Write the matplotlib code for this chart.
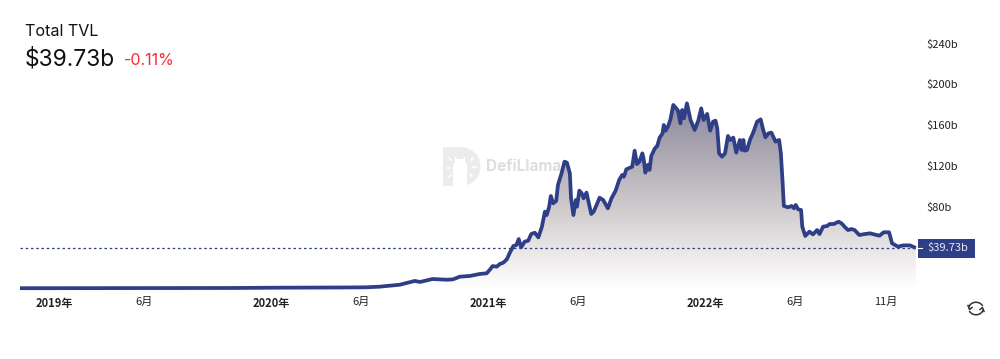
import matplotlib
matplotlib.use('Agg')
import matplotlib.pyplot as plt
from matplotlib.colors import LinearSegmentedColormap
from matplotlib.patches import Polygon, Rectangle, Wedge, Arc
import numpy as np

# days since 2019-01-01
tvl_days = [-57, 100, 300, 380, 450, 489, 526, 548, 582, 607, 616, 637, 661, 671, 683, 700,
            716, 728, 733, 738, 745, 750, 756, 762, 767, 773, 778, 782, 786, 792, 798, 803, 809, 815, 821, 826,
            829, 833, 836, 840, 845, 848, 854, 859, 863, 868, 870, 874, 878, 880, 884, 888, 891, 896, 900, 904,
            908, 913, 918, 924, 932, 938, 945, 951, 956, 959, 963, 973, 977, 981, 985, 990, 992, 995, 999, 1002,
            1005, 1011, 1015, 1019, 1024, 1026, 1029, 1033, 1037, 1042, 1047, 1050, 1054, 1057, 1060, 1065, 1071,
            1078, 1084, 1089, 1093, 1099, 1104, 1109, 1113, 1116, 1119, 1124, 1129, 1134, 1138, 1143, 1148, 1154,
            1157, 1160, 1162, 1166, 1171, 1177, 1183, 1189, 1193, 1197, 1202, 1207, 1214, 1220, 1223, 1226, 1228,
            1235, 1241, 1245, 1248, 1252, 1257, 1259, 1264, 1271, 1277, 1284, 1288, 1294, 1301, 1305, 1312, 1320,
            1325, 1331, 1336, 1342, 1347, 1355, 1361, 1373, 1384, 1389, 1396, 1405, 1410, 1420, 1429, 1440, 1450]
# TVL in billions of dollars
tvl_values = [0.3, 0.4, 0.5, 0.8, 0.9, 1.0, 1.2, 1.8, 3.7, 7.4, 6.4, 9.3, 8.6, 8.9, 11.6, 12.3,
              14.2, 14.9, 18.1, 22.0, 21.4, 24.0, 25.3, 28.6, 35.1, 41.7, 42.6, 48.5, 40.3, 45.9, 46.9, 53.4, 54.7, 50.1, 60.6, 75.3,
              72.0, 79.6, 90.7, 83.5, 85.8, 101.5, 112.9, 124.3, 123.4, 112.9, 88.4, 72.0, 86.8, 80.2, 95.9, 93.3, 88.4, 94.0, 83.5, 73.0,
              75.3, 81.9, 89.0, 86.8, 78.6, 88.4, 95.9, 106.4, 111.3, 109.6, 116.8, 119.4, 135.1, 122.0, 124.3, 132.5, 127.6, 113.6, 121.1, 116.2,
              129.9, 137.4, 139.7, 147.9, 152.1, 160.3, 154.7, 158.7, 165.2, 179.9, 176.6, 174.3, 161.9, 175.0, 166.8, 181.5, 165.2,
              155.4, 164.5, 176.6, 165.2, 171.1, 154.7, 163.6, 164.5, 157.0, 132.5, 129.2, 132.5, 149.5, 145.6, 147.9, 133.2, 145.6,
              135.8, 145.6, 135.1, 135.8, 145.6, 153.7, 163.6, 165.8, 156.0, 148.2, 152.1, 152.8, 144.0, 145.6, 132.5, 103.1, 80.9,
              79.6, 80.9, 78.6, 81.9, 77.6, 77.0, 60.6, 51.5, 55.7, 53.1, 57.3, 53.4, 60.6, 61.3, 63.2, 63.2, 65.5,
              63.9, 60.0, 57.3, 58.3, 57.3, 52.4, 53.1, 54.1, 52.4, 51.8, 55.1, 55.1, 44.3, 41.0, 42.3, 42.3, 39.73]

current_tvl = 39.73
change_pct = '-0.11%'

x_ticks = [0, 151, 365, 517, 731, 882, 1096, 1247, 1400]
x_labels = ['2019年', '6月', '2020年', '6月', '2021年', '6月', '2022年', '6月', '11月']
y_ticks = [80, 120, 160, 200, 240]

line_color = '#2f3f87'
cjk = ['Noto Sans CJK SC', 'DejaVu Sans']

fig = plt.figure(figsize=(10, 3.59), dpi=100)

# overlay in pixel coordinates for header, badge and icons
overlay = fig.add_axes([0, 0, 1, 1], zorder=5)
overlay.set_xlim(0, 1000)
overlay.set_ylim(359, 0)
overlay.axis('off')

ax = fig.add_axes([20 / 1000, (359 - 288.5) / 359, 897 / 1000, 258.5 / 359], zorder=1)
for s in ax.spines.values():
    s.set_visible(False)

# gradient under the curve
grad = LinearSegmentedColormap.from_list(
    'tvl', [(0, '#ffffff'), (0.21, '#e9e6e5'), (0.48, '#c9c5c8'), (1, '#8b889c')])
peak = max(tvl_values)
im = ax.imshow(np.linspace(1, 0, 256).reshape(-1, 1), cmap=grad, aspect='auto',
               extent=[tvl_days[0], tvl_days[-1], 0, peak], zorder=1)
poly = Polygon(list(zip(tvl_days, tvl_values)) + [(tvl_days[-1], 0), (tvl_days[0], 0)],
               closed=True, transform=ax.transData, fc='none', ec='none')
ax.add_patch(poly)
im.set_clip_path(poly)

ax.axhline(current_tvl, color=line_color, lw=0.9, ls=(0, (2, 2.2)), zorder=2)
ax.plot(tvl_days, tvl_values, color=line_color, lw=2.7, solid_joinstyle='round',
        solid_capstyle='butt', clip_on=False, zorder=4)

ax.set_xlim(-57, 1452)
ax.set_ylim(0, 253.4)

ax.set_xticks(x_ticks)
ax.set_xticklabels(x_labels, family=cjk, fontsize=8, color='#222222')
for lab, txt in zip(ax.get_xticklabels(), x_labels):
    if '年' in txt:
        lab.set_fontweight('bold')
ax.yaxis.tick_right()
ax.set_yticks(y_ticks)
ax.set_yticklabels([f'${v}b' for v in y_ticks], family=cjk, fontsize=8, color='#222222')
ax.tick_params(axis='both', length=0)
ax.tick_params(axis='x', pad=6)
ax.tick_params(axis='y', pad=7)

# watermark, sits between the gradient and the line
wm = overlay.transData
ax.add_patch(Rectangle((443, 147), 18, 39, fc='#ececec', ec='none', transform=wm, zorder=3))
ax.add_patch(Wedge((461, 166.5), 19.5, -90, 90, fc='#ececec', ec='none', transform=wm, zorder=3))
ax.add_patch(Polygon([(453, 186), (453, 166), (455, 160), (455, 156), (457, 159), (463, 159),
                      (465, 156), (465, 160), (467, 166), (467, 186)],
                     fc='white', ec='none', transform=wm, zorder=3))
for a, b in [((449, 158), (451, 160)), ((447, 168), (450, 168)), ((449, 177), (451, 175)),
             ((473, 158), (471, 160)), ((476, 167), (473, 167)), ((472, 176), (470, 174))]:
    ax.plot([a[0], b[0]], [a[1], b[1]], color='white', lw=1.2, transform=wm, zorder=3, clip_on=False)
ax.text(486, 166.5, 'DefiLlama', transform=wm, family=['Inter', 'DejaVu Sans'], fontsize=11, fontweight='bold',
        color='#dedede', va='center', ha='left', zorder=3)

# header
overlay.text(25, 36, 'Total TVL', family=['Inter', 'DejaVu Sans'], fontsize=11.6, color='#111111', va='baseline')
overlay.text(25, 65.5, f'${current_tvl}b', family=['Inter', 'DejaVu Sans'], fontsize=16.4, color='#111111', va='baseline')
overlay.text(124, 65, change_pct, family=['Inter', 'DejaVu Sans'], fontsize=11.5, color='#fd2b35', va='baseline')

# current value badge
overlay.add_patch(Rectangle((917.5, 239), 57.5, 19, fc=line_color, ec='none'))
overlay.plot([917.5, 922], [248, 248], color='white', lw=0.8)
overlay.text(927, 248.5, f'${current_tvl}b', family=cjk, fontsize=8, color='#e8e8f0', va='center', ha='left')

# refresh icon
overlay.add_patch(Arc((976, 308.5), 14.5, 12.5, theta1=190, theta2=340, color='#333333', lw=1.1))
overlay.add_patch(Arc((976, 308.5), 14.5, 12.5, theta1=10, theta2=160, color='#333333', lw=1.1))
overlay.plot([968, 969.5, 972], [305.5, 309.5, 307.5], color='#333333', lw=1.1)
overlay.plot([980, 982.5, 984], [309.5, 307.5, 311.5], color='#333333', lw=1.1)

fig.savefig('out.png', dpi=100)
